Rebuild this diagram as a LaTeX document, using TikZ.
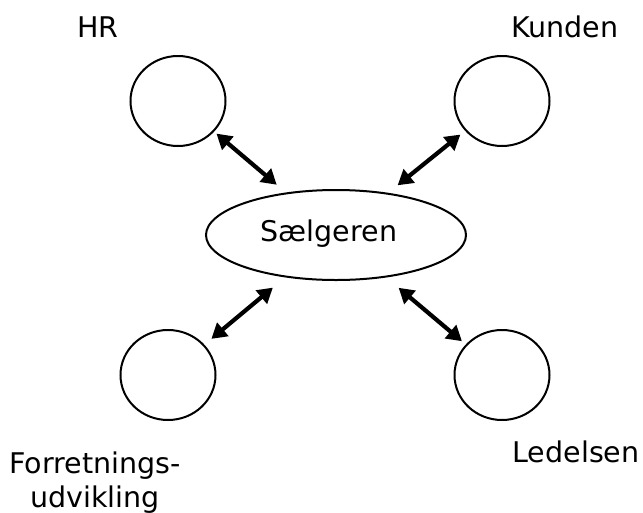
\documentclass[tikz,border=0pt]{standalone}
\usepackage{fontspec}
\setmainfont{DejaVu Sans}
\usetikzlibrary{arrows.meta,shapes.geometric}
\begin{document}
\begin{tikzpicture}[x=1pt,y=-1pt,
  lbl/.style={font=\fontsize{28.5}{33.5}\selectfont, inner sep=0pt, anchor=base},
  party/.style={draw, line width=2pt, ellipse, minimum width=95pt, minimum height=90pt, inner sep=0pt},
  biarrow/.style={line width=4.2pt, {Triangle[length=15pt,width=17pt]}-{Triangle[length=15pt,width=17pt]}}]
\useasboundingbox (0,0) rectangle (643,512);
\node[party] (hr) at (178,101) {};
\node[party] (ku) at (502,101) {};
\node[party] (fu) at (168,375) {};
\node[party] (le) at (502,375) {};
\node[draw, ellipse, line width=2pt, minimum width=260pt, minimum height=90pt, inner sep=0pt] (s) at (336,235) {};
\node[lbl] (st) at (329,241) {Sælgeren};
\node[lbl] (hrl) at (98,37) {HR};
\node[lbl] (kul) at (565,37) {Kunden};
\node[lbl] (lel) at (576,462) {Ledelsen};
\node[lbl, align=center] (ful) at (95,507) {Forretnings-\\udvikling};
\draw[biarrow, shorten <=3pt, shorten >=12pt] (hr) -- (s);
\draw[biarrow, shorten <=6pt, shorten >=12pt] (ku) -- (s);
\draw[biarrow, shorten <=9pt, shorten >=16pt] (fu) -- (s);
\draw[biarrow, shorten <=5pt, shorten >=16pt] (le) -- (s);
\end{tikzpicture}
\end{document}
